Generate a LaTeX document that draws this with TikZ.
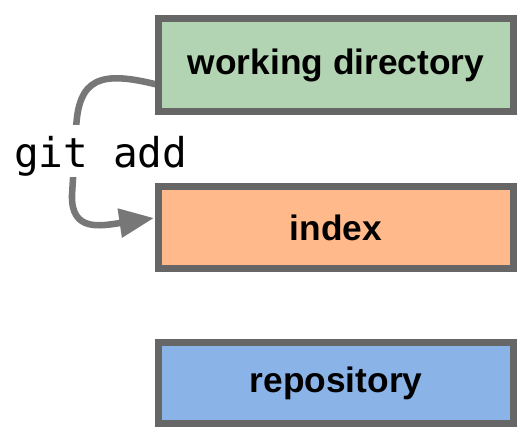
\documentclass[tikz,border=0pt]{standalone}
\usepackage{fontspec}
\setmainfont{Liberation Sans}
\newfontfamily\gitmono{DejaVu Sans Mono}
\usetikzlibrary{arrows.meta,calc}
\definecolor{boxline}{HTML}{666666}
\definecolor{conn}{HTML}{777777}
\definecolor{wdfill}{HTML}{B3D4B3}
\definecolor{idxfill}{HTML}{FFB98A}
\definecolor{repofill}{HTML}{8AB4E8}
\tikzset{
  stage/.style={draw=boxline, line width=5.25pt, minimum width=266.25pt,
    inner sep=0pt, font=\fontsize{26.5pt}{30pt}\selectfont\bfseries},
  cmdlabel/.style={fill=white, inner sep=0pt, text height=31.5pt, text depth=7.5pt,
    font=\gitmono\fontsize{30.8pt}{36pt}\selectfont},
  connector/.style={draw=conn, line width=4.9pt, line cap=round,
    -{Triangle[length=26pt,width=21pt]}}
}
\begin{document}
\begin{tikzpicture}[x=0.75pt,y=-0.75pt]
\useasboundingbox (0,0) rectangle (525,436);
\coordinate (s) at (158.5,85);
\coordinate (t) at (154,218);
\draw[connector] (s) .. controls (100,70) and (78,78) .. (76,130)
  -- (72,195) .. controls (71,232) and (100,226) .. (t);
\node[stage, fill=wdfill, minimum height=69.75pt] (wd) at (336,65) {working directory};
\node[stage, fill=idxfill, minimum height=61.5pt] (idx) at (336,227.5) {index};
\node[stage, fill=repofill, minimum height=60.75pt] (repo) at (336,383) {repository};
\node[cmdlabel, anchor=base west] (lbl) at (14,167) {git add};
\end{tikzpicture}
\end{document}
